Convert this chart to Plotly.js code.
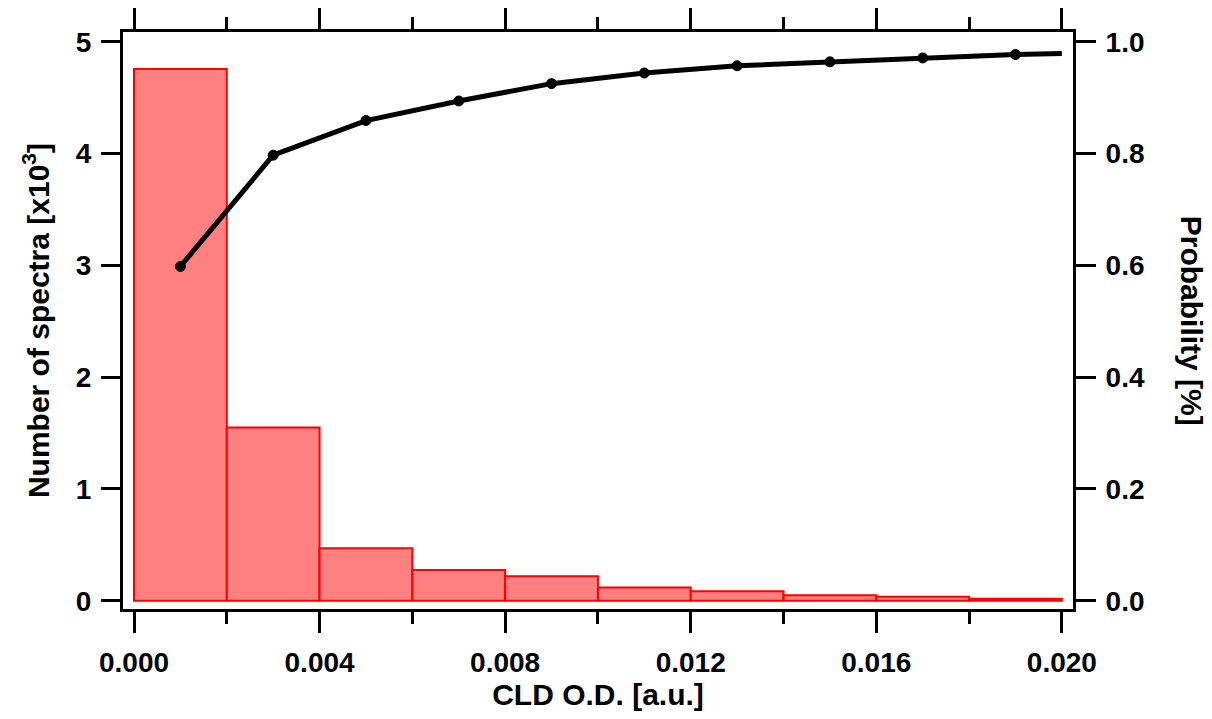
<!DOCTYPE html>
<html>
<head>
<meta charset="utf-8">
<script src="https://cdn.plot.ly/plotly-3.0.1.min.js"></script>
<style>
  body { margin: 0; background: #fff; }
  #chart { width: 1212px; height: 719px; }
</style>
</head>
<body>
<div id="chart"></div>
<script>
// histogram bins (centres), counts in units of 10^3
var binCentres = [0.001, 0.003, 0.005, 0.007, 0.009, 0.011, 0.013, 0.015, 0.017, 0.019];
var binCounts = [4.757, 1.55, 0.47, 0.275, 0.22, 0.118, 0.084, 0.048, 0.036, 0.018];

// cumulative probability curve (last point has no marker)
var probX = [0.001, 0.003, 0.005, 0.007, 0.009, 0.011, 0.013, 0.015, 0.017, 0.019, 0.020];
var probY = [0.598, 0.797, 0.859, 0.894, 0.925, 0.944, 0.957, 0.964, 0.971, 0.977, 0.979];

var xTickVals = [0, 0.004, 0.008, 0.012, 0.016, 0.020];
var xTickText = ['0.000', '0.004', '0.008', '0.012', '0.016', '0.020'];
var yTickVals = [0, 1, 2, 3, 4, 5];
var y2TickVals = [0, 0.2, 0.4, 0.6, 0.8, 1.0];
var y2TickText = ['0.0', '0.2', '0.4', '0.6', '0.8', '1.0'];

var tickFont = { family: 'Liberation Sans, Arial, sans-serif', size: 28, color: '#000', weight: 'bold' };
var titleFont = { family: 'Liberation Sans, Arial, sans-serif', size: 30, color: '#000', weight: 'bold' };

var markerSizes = probX.map(function(x, i) { return i < probX.length - 1 ? 10 : 0; });

var barTrace = {
  type: 'bar',
  x: binCentres,
  y: binCounts,
  width: 0.002,
  marker: {
    color: 'rgb(255,128,128)',
    line: { color: 'rgb(255,0,0)', width: 2 }
  },
  hoverinfo: 'x+y',
};

var probTrace = {
  type: 'scatter',
  mode: 'lines+markers',
  x: probX,
  y: probY,
  yaxis: 'y2',
  line: { color: '#000', width: 5 },
  marker: { color: '#000', opacity: 1, size: markerSizes, line: { color: '#000', width: 1 } },
};

var layout = {
  width: 1212,
  height: 719,
  margin: { l: 123, r: 139, t: 32, b: 110 },
  paper_bgcolor: '#fff',
  plot_bgcolor: '#fff',
  showlegend: false,
  bargap: 0,
  font: tickFont,
  xaxis: {
    range: [-0.000237, 0.02024],
    tickvals: xTickVals,
    ticktext: xTickText,
    ticks: 'outside',
    ticklen: 21,
    tickwidth: 3,
    tickcolor: '#000',
    minor: { dtick: 0.002, tick0: 0, ticks: 'outside', ticklen: 12, tickwidth: 3, tickcolor: '#000' },
    showline: true,
    linewidth: 3,
    linecolor: '#000',
    mirror: 'ticks',
    showgrid: false,
    zeroline: false,
    tickfont: tickFont,
    ticklabelstandoff: 5,
    title: { text: 'CLD O.D. [a.u.]', font: titleFont, standoff: 4 },
  },
  yaxis: {
    range: [-0.074, 5.087],
    tickvals: yTickVals,
    ticks: 'outside',
    ticklen: 19,
    tickwidth: 3,
    tickcolor: '#000',
    showline: true,
    linewidth: 3,
    linecolor: '#000',
    showgrid: false,
    zeroline: false,
    tickfont: tickFont,
    ticklabelstandoff: 4,
  },
  yaxis2: {
    overlaying: 'y',
    side: 'right',
    range: [-0.0148, 1.0174],
    tickvals: y2TickVals,
    ticktext: y2TickText,
    ticks: 'outside',
    ticklen: 20,
    tickwidth: 3,
    tickcolor: '#000',
    showline: true,
    linewidth: 3,
    linecolor: '#000',
    showgrid: false,
    zeroline: false,
    tickfont: tickFont,
    ticklabelstandoff: 4,
  },
  annotations: [{
    text: 'Number of spectra [x10<sup>3</sup>]',
    xref: 'paper', yref: 'paper',
    x: -0.092, y: 0.5,
    xanchor: 'center', yanchor: 'middle',
    textangle: -90,
    showarrow: false,
    font: titleFont,
  }, {
    text: 'Probability [%]',
    xref: 'paper', yref: 'paper',
    x: 1.125, y: 0.5,
    xanchor: 'center', yanchor: 'middle',
    textangle: 90,
    showarrow: false,
    font: titleFont,
  }],
};

Plotly.newPlot('chart', [barTrace, probTrace], layout, { displayModeBar: false, staticPlot: true });
</script>
</body>
</html>
